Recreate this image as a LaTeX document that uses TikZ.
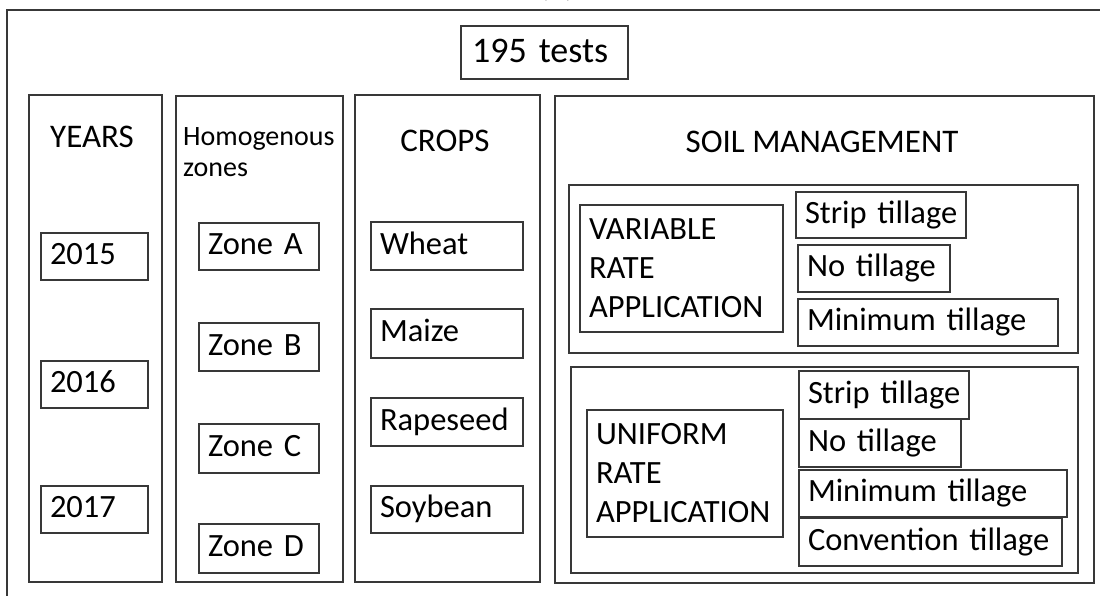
\documentclass[tikz,border=0pt]{standalone}
\usepackage{fontspec}
\setmainfont{Carlito}
\begin{document}
\begin{tikzpicture}[x=1pt,y=-1pt,
  ln/.style={draw=black!78, line width=1.5pt},
  frame/.style={ln, inner sep=0pt},
  cell/.style={ln, inner xsep=9pt, inner ysep=0pt, align=left,
    font=\fontsize{32.5}{39}\selectfont, text height=16pt, text depth=0pt},
  multi/.style={ln, inner xsep=9pt, inner ysep=0pt, align=left,
    font=\fontsize{32.5}{39}\selectfont},
  title/.style={anchor=base, inner sep=0pt, font=\fontsize{33}{40}\selectfont}
]
\useasboundingbox (0,0) rectangle (1100,595);
\clip (0,0) rectangle (1100,595);
\fill[white] (0,0) rectangle (1100,595);

% outer frame (cut by the picture edges)
\node[frame, minimum width=1133pt, minimum height=630pt] (outer) at (573.5,325) {};
\node[anchor=base, inner sep=0pt, font=\fontsize{32.5}{39}\selectfont] (lbl) at (557,-4) {(a)};

% top box
\node[ln, inner xsep=11pt, inner ysep=0pt, text width=145pt, align=left, minimum height=53pt,
  font=\fontsize{36}{43}\selectfont, text height=19pt, text depth=0pt] (tests) at (544.5,52.5) {195~tests};

% columns
\node[frame, minimum width=133pt, minimum height=487pt] (c1) at (95.5,338.5) {};
\node[frame, minimum width=167pt, minimum height=486pt] (c2) at (259.5,339) {};
\node[frame, minimum width=185pt, minimum height=487pt] (c3) at (447.5,338.5) {};
\node[frame, minimum width=539pt, minimum height=487pt] (c4) at (824.5,339.5) {};

% column titles
\node[title] (tyears) at (92,147) {YEARS};
\node[anchor=north west, inner sep=0pt, align=left, font=\fontsize{28}{31}\selectfont] (tzones) at (183,127) {Homogenous\\zones};
\node[title] (tcrops) at (445,151) {CROPS};
\node[title] (tsoil) at (822,152) {SOIL MANAGEMENT};

% years
\node[cell, text width=89pt, minimum height=47pt] (y15) at (94.5,256.5) {2015};
\node[cell, text width=89pt, minimum height=47pt] (y16) at (94.5,384.5) {2016};
\node[cell, text width=89pt, minimum height=47pt] (y17) at (94.5,509.5) {2017};

% zones
\node[cell, text width=102pt, minimum height=47pt] (za) at (259,246.5) {Zone~A};
\node[cell, text width=102pt, minimum height=48pt] (zb) at (259,347) {Zone~B};
\node[cell, text width=102pt, minimum height=49pt] (zc) at (259,448.5) {Zone~C};
\node[cell, text width=102pt, minimum height=49pt] (zd) at (259,548.5) {Zone~D};

% crops
\node[cell, text width=134pt, minimum height=48pt] (wheat) at (447,246) {Wheat};
\node[cell, text width=134pt, minimum height=49pt] (maize) at (447,333.5) {Maize};
\node[cell, text width=134pt, minimum height=48pt] (rape) at (447,422) {Rapeseed};
\node[cell, text width=134pt, minimum height=47pt] (soy) at (447,509.5) {Soybean};

% variable rate group
\node[frame, minimum width=509pt, minimum height=168pt] (vg) at (823.5,269) {};
\node[multi, text width=185pt, minimum height=127pt] (vra) at (681.5,268.5) {VARIABLE\\RATE\\APPLICATION};
\node[cell, text width=152pt, minimum height=46pt] (vs) at (881,215) {Strip~tillage};
\node[cell, text width=134pt, minimum height=47pt] (vn) at (874,268.5) {No~tillage};
\node[cell, text width=242pt, minimum height=47pt] (vm) at (928,322.5) {Minimum~tillage};

% uniform rate group
\node[frame, minimum width=507pt, minimum height=206pt] (ug) at (824.5,470) {};
\node[multi, text width=178pt, minimum height=127pt] (ura) at (685,473.5) {UNIFORM\\RATE\\APPLICATION};
\node[cell, text width=152pt, minimum height=48pt] (us) at (884,395) {Strip~tillage};
\node[cell, text width=144pt, minimum height=48pt] (un) at (880,443) {No~tillage};
\node[cell, text width=250pt, minimum height=47pt] (um) at (933,493.5) {Minimum~tillage};
\node[cell, text width=245pt, minimum height=48pt] (uc) at (930.5,542) {Convention~tillage};
\end{tikzpicture}
\end{document}
